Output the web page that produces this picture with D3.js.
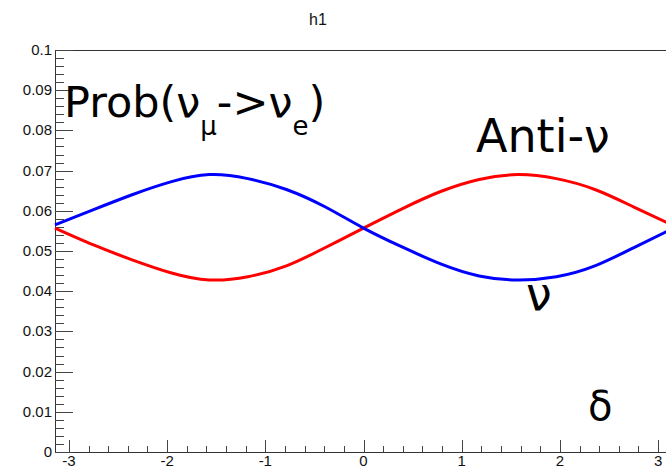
<!DOCTYPE html>
<html>
<head>
<meta charset="utf-8">
<script src="https://cdn.jsdelivr.net/npm/d3@7"></script>
<style>
  body { margin: 0; background: #fff; }
  svg { display: block; }
</style>
</head>
<body>
<div id="chart"></div>
<script>
// canvas size and frame position (ROOT style, right edge runs off the window)
const width = 666;
const height = 470;
const margin = {left: 55, right: -6, top: 50, bottom: 18};

// delta values where the curves were read
const delta = [-3.1416, -2.7489, -2.3562, -1.9635, -1.5708, -1.1781, -0.7854, -0.3927, 0,
               0.3927, 0.7854, 1.1781, 1.5708, 1.9635, 2.3562, 2.7489, 3.1416];

// neutrino (blue) and anti-neutrino (red) probabilities
const nuProb = [0.0565, 0.0603, 0.0640, 0.0672, 0.0690, 0.0680, 0.0653, 0.0610, 0.0557,
                0.0510, 0.0468, 0.0438, 0.0428, 0.0436, 0.0463, 0.0508, 0.0555];
const antiProb = [0.0557, 0.0515, 0.0478, 0.0446, 0.0428, 0.0436, 0.0463, 0.0508, 0.0557,
                  0.0605, 0.0648, 0.0678, 0.0690, 0.0680, 0.0653, 0.0610, 0.0565];

// tick labels
const xTicks = [-3, -2, -1, 0, 1, 2, 3];
const yTicks = [0, 0.01, 0.02, 0.03, 0.04, 0.05, 0.06, 0.07, 0.08, 0.09, 0.1];

const svg = d3.select("#chart")
  .append("svg")
  .attr("width", width)
  .attr("height", height);

// scales
const xScale = d3.scaleLinear()
  .domain([-Math.PI, Math.PI])
  .range([margin.left, width - margin.right]);

const yScale = d3.scaleLinear()
  .domain([0, 0.1])
  .range([height - margin.bottom, margin.top]);

const x0 = margin.left, x1 = width - margin.right;
const y0 = height - margin.bottom, y1 = margin.top;

// frame
svg.append("rect")
  .attr("x", x0 + 0.5).attr("y", y1 + 0.5)
  .attr("width", x1 - x0).attr("height", y0 - y1)
  .attr("fill", "none")
  .attr("stroke", "#333")
  .attr("stroke-width", 1);

// y axis ticks (drawn inward, like ROOT)
const yMinor = d3.range(0, 0.1001, 0.002);
svg.append("g").selectAll("line")
  .data(yMinor)
  .join("line")
    .attr("x1", x0)
    .attr("x2", (d, i) => x0 + (i % 5 === 0 ? 18 : 9))
    .attr("y1", d => Math.round(yScale(d)) + 0.5)
    .attr("y2", d => Math.round(yScale(d)) + 0.5)
    .attr("stroke", "#444");

svg.append("g").selectAll("text")
  .data(yTicks)
  .join("text")
    .attr("x", x0 - 3)
    .attr("y", d => yScale(d) + 5)
    .attr("text-anchor", "end")
    .attr("font-family", "Liberation Sans, Arial, sans-serif")
    .attr("font-size", "15px")
    .attr("fill", "#111")
    .text(d => d === 0 ? "0" : d3.format(".2~f")(d));

// x axis ticks
const xMinor = d3.range(-3.2, 3.21, 0.2).filter(d => d >= -Math.PI && d <= Math.PI);
svg.append("g").selectAll("line")
  .data(xMinor)
  .join("line")
    .attr("x1", d => Math.round(xScale(d)) + 0.5)
    .attr("x2", d => Math.round(xScale(d)) + 0.5)
    .attr("y1", y0)
    .attr("y2", d => y0 - (Math.abs(d - Math.round(d)) < 1e-6 ? 12 : 6))
    .attr("stroke", "#444");

svg.append("g").selectAll("text")
  .data(xTicks)
  .join("text")
    .attr("x", d => xScale(d))
    .attr("y", y0 + 14)
    .attr("text-anchor", "middle")
    .attr("font-family", "Liberation Sans, Arial, sans-serif")
    .attr("font-size", "15px")
    .attr("fill", "#111")
    .text(d => d);

// curves
const line = d3.line()
  .x(d => xScale(d[0]))
  .y(d => yScale(d[1]))
  .curve(d3.curveNatural);

svg.append("path")
  .datum(delta.map((d, i) => [d, antiProb[i]]))
  .attr("d", line)
  .attr("fill", "none")
  .attr("stroke", "#ff0000")
  .attr("stroke-width", 3);

svg.append("path")
  .datum(delta.map((d, i) => [d, nuProb[i]]))
  .attr("d", line)
  .attr("fill", "none")
  .attr("stroke", "#0000ff")
  .attr("stroke-width", 3);

// title
svg.append("text")
  .attr("x", 318).attr("y", 25)
  .attr("text-anchor", "middle")
  .attr("font-family", "Liberation Sans, Arial, sans-serif")
  .attr("font-size", "16px")
  .attr("fill", "#111")
  .text("h1");

// big labels
const big = "DejaVu Sans, sans-serif";

const prob = svg.append("text")
  .attr("x", 64).attr("y", 117)
  .attr("font-family", big)
  .attr("font-size", "43px")
  .attr("fill", "#000");
prob.append("tspan").text("Prob(ν");
prob.append("tspan").attr("dy", 18).attr("font-size", "26px").text("μ");
prob.append("tspan").attr("dy", -18).text("->ν");
prob.append("tspan").attr("dy", 18).attr("font-size", "26px").text("e");
prob.append("tspan").attr("dy", -18).text(")");

svg.append("text")
  .attr("x", 476).attr("y", 152)
  .attr("font-family", big)
  .attr("font-size", "46px")
  .attr("fill", "#000")
  .text("Anti-ν");

svg.append("text")
  .attr("x", 526).attr("y", 310)
  .attr("font-family", big)
  .attr("font-size", "46px")
  .attr("fill", "#000")
  .text("ν");

svg.append("text")
  .attr("x", 588).attr("y", 420)
  .attr("font-family", big)
  .attr("font-size", "40px")
  .attr("fill", "#000")
  .text("δ");
</script>
</body>
</html>
